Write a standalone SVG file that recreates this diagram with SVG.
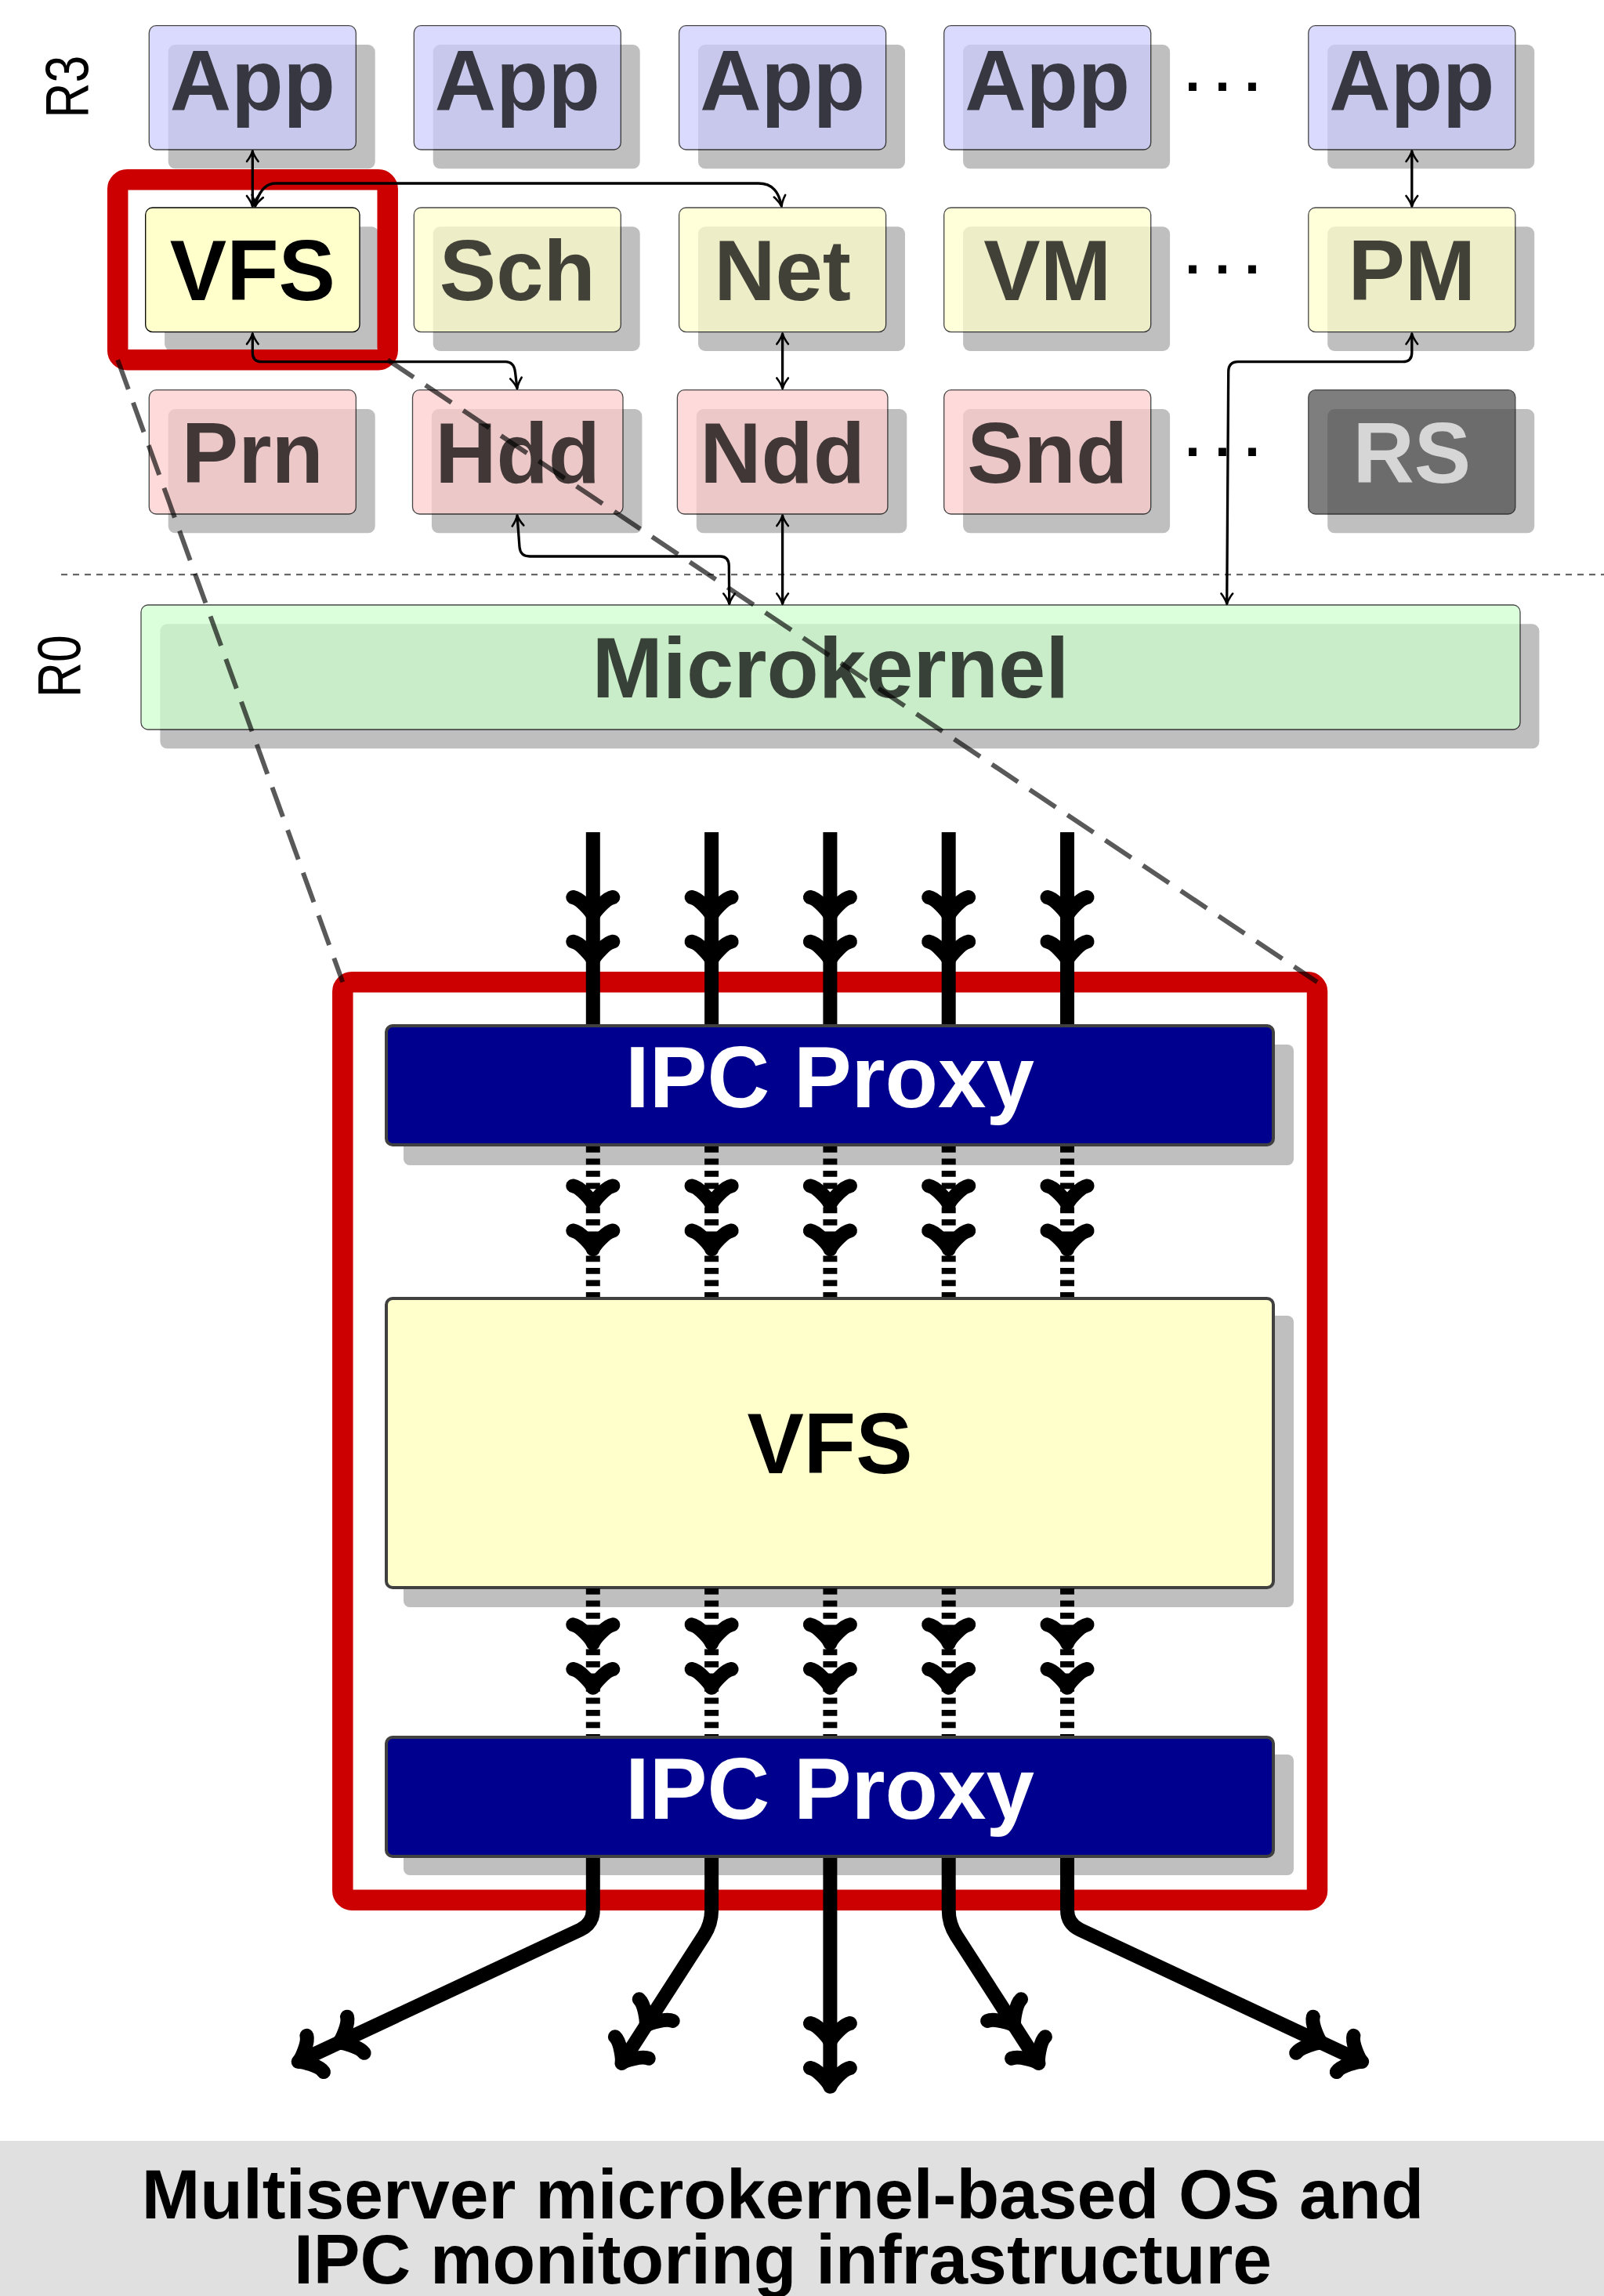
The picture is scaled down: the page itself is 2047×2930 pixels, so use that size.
<svg xmlns="http://www.w3.org/2000/svg" width="2047" height="2930" viewBox="0 0 2047 2930">
<style>
  .sh{fill:#bfbfbf}
  .bx{stroke:#000;stroke-width:1.3;opacity:.72}
  .lb{font-family:"Liberation Sans",Arial,sans-serif;font-weight:bold;font-size:108.5px;text-anchor:middle}
  .tl{opacity:.72}
  .app{fill:#ccccff}
  .srv{fill:#ffffcc}
  .drv{fill:#ffcccc}
  .rs{fill:#4d4d4d}
  .mk{fill:#ccffcc}
  .dots{font-family:"Liberation Sans",Arial,sans-serif;font-weight:bold;font-size:70px;letter-spacing:14.7px}
  .ring{font-family:"Liberation Sans",Arial,sans-serif;font-size:77px;text-anchor:middle}
  .thin{fill:none;stroke:#000;stroke-width:3.3;marker-start:url(#tip);marker-end:url(#tip)}
  .thick{fill:none;stroke:#000;stroke-width:18}
  .dsh{stroke-dasharray:7.7 7.8}
  .big{stroke:#404040;stroke-width:4}
  .ipc{font-family:"Liberation Sans",Arial,sans-serif;font-weight:bold;font-size:110.5px;text-anchor:middle;fill:#fff}
  .zoom{fill:none;stroke:#000;stroke-opacity:.65;stroke-width:6;stroke-dasharray:40 18}
  .title{font-family:"Liberation Sans",Arial,sans-serif;font-weight:bold;font-size:89.5px;text-anchor:middle}
</style>
<defs>
  <marker id="tip" viewBox="-16 -9 18 18" markerWidth="18" markerHeight="18" refX="0" refY="0" orient="auto-start-reverse" markerUnits="userSpaceOnUse" overflow="visible">
    <path d="M-13.5 -7.3 C-9 -3.8 -3.5 -0.9 0 0 C-3.5 0.9 -9 3.8 -13.5 7.3" fill="none" stroke="#000" stroke-width="2.6" stroke-linecap="round" stroke-linejoin="round"/>
  </marker>
  <!-- curved "to" arrowhead for the thick message lines, tip pointing along +x -->
  <path id="to" d="M-19 25.5 C-17.4 16 0 1.6 4.8 0 C0 -1.6 -17.4 -16 -19 -25.5" fill="none" stroke="#000" stroke-width="18" stroke-linecap="round" stroke-linejoin="round"/>
</defs>

<rect width="2047" height="2930" fill="#fff"/>

<!-- ring labels and ring separator -->
<text class="ring" x="111.7" y="110.7" transform="rotate(-90 111.7 110.7)" textLength="80" lengthAdjust="spacingAndGlyphs">R3</text>
<text class="ring" x="101.8" y="850.3" transform="rotate(-90 101.8 850.3)" textLength="80" lengthAdjust="spacingAndGlyphs">R0</text>
<path d="M78 733.3 H2047" stroke="#555" stroke-width="2" stroke-dasharray="8 7"/>

<!-- user applications -->
<g id="app1"><rect class="sh" x="214.7" y="57" width="264" height="158.3" rx="9"/><rect class="bx app" x="190.3" y="32.7" width="264" height="158.3" rx="9"/><text class="lb tl" x="322.3" y="140">App</text></g>
<g id="app2"><rect class="sh" x="552.7" y="57" width="264" height="158.3" rx="9"/><rect class="bx app" x="528.3" y="32.7" width="264" height="158.3" rx="9"/><text class="lb tl" x="660.3" y="140">App</text></g>
<g id="app3"><rect class="sh" x="891" y="57" width="264" height="158.3" rx="9"/><rect class="bx app" x="866.6" y="32.7" width="264" height="158.3" rx="9"/><text class="lb tl" x="998.6" y="140">App</text></g>
<g id="app4"><rect class="sh" x="1229.1" y="57" width="264" height="158.3" rx="9"/><rect class="bx app" x="1204.7" y="32.7" width="264" height="158.3" rx="9"/><text class="lb tl" x="1336.7" y="140">App</text></g>
<g id="app5"><rect class="sh" x="1694.2" y="57" width="264" height="158.3" rx="9"/><rect class="bx app" x="1669.8" y="32.7" width="264" height="158.3" rx="9"/><text class="lb tl" x="1801.8" y="140">App</text></g>

<!-- system servers -->
<g id="vfs"><rect class="sh" x="210.1" y="289.3" width="273.3" height="158.7" rx="9"/><rect x="185.7" y="265" width="273.3" height="158.7" rx="9" fill="#ffffcc" stroke="#000" stroke-width="1.3"/><text class="lb" x="322.3" y="383.1">VFS</text></g>
<g id="sch"><rect class="sh" x="552.7" y="289.3" width="264" height="158.7" rx="9"/><rect class="bx srv" x="528.3" y="265" width="264" height="158.7" rx="9"/><text class="lb tl" x="660.3" y="383.1">Sch</text></g>
<g id="net"><rect class="sh" x="891" y="289.3" width="264" height="158.7" rx="9"/><rect class="bx srv" x="866.6" y="265" width="264" height="158.7" rx="9"/><text class="lb tl" x="998.6" y="383.1">Net</text></g>
<g id="vm"><rect class="sh" x="1229.1" y="289.3" width="264" height="158.7" rx="9"/><rect class="bx srv" x="1204.7" y="265" width="264" height="158.7" rx="9"/><text class="lb tl" x="1336.7" y="383.1">VM</text></g>
<g id="pm"><rect class="sh" x="1694.2" y="289.3" width="264" height="158.7" rx="9"/><rect class="bx srv" x="1669.8" y="265" width="264" height="158.7" rx="9"/><text class="lb tl" x="1801.8" y="383.1">PM</text></g>

<!-- drivers -->
<g id="prn"><rect class="sh" x="214.7" y="522" width="264" height="158.3" rx="9"/><rect class="bx drv" x="190.3" y="497.7" width="264" height="158.3" rx="9"/><text class="lb tl" x="322.3" y="615.6">Prn</text></g>
<g id="hdd"><rect class="sh" x="550.9" y="522" width="268.5" height="158.3" rx="9"/><rect class="bx drv" x="526.5" y="497.7" width="268.5" height="158.3" rx="9"/><text class="lb tl" x="660.7" y="615.6">Hdd</text></g>
<g id="ndd"><rect class="sh" x="888.8" y="522" width="268.5" height="158.3" rx="9"/><rect class="bx drv" x="864.4" y="497.7" width="268.5" height="158.3" rx="9"/><text class="lb tl" x="998.6" y="615.6">Ndd</text></g>
<g id="snd"><rect class="sh" x="1229.1" y="522" width="264" height="158.3" rx="9"/><rect class="bx drv" x="1204.7" y="497.7" width="264" height="158.3" rx="9"/><text class="lb tl" x="1336.7" y="615.6">Snd</text></g>
<g id="rs"><rect class="sh" x="1694.2" y="522" width="264" height="158.3" rx="9"/><rect class="bx rs" x="1669.8" y="497.7" width="264" height="158.3" rx="9"/><text class="lb tl" x="1801.8" y="615.6" fill="#fff">RS</text></g>

<!-- kernel -->
<g id="microkernel"><rect class="sh" x="204.4" y="796.3" width="1760" height="159" rx="9"/><rect class="bx mk" x="180" y="772" width="1760" height="159" rx="9"/><text class="lb tl" x="1060" y="890.3">Microkernel</text></g>

<!-- ellipses between columns -->
<text class="dots" x="1512.3" y="134.2">···</text>
<text class="dots" x="1512.3" y="367.2">···</text>
<text class="dots" x="1512.3" y="599.5">···</text>

<!-- highlight around VFS -->
<rect id="vfs-highlight" x="150.2" y="229.3" width="344.5" height="229.9" rx="12" fill="none" stroke="#cc0000" stroke-width="26.5"/>

<!-- IPC connectors -->
<g id="connectors">
  <path class="thin" d="M322.3 192.5 V263.5"/>
  <path class="thin" d="M997.5 263.5 C994 245 986 234 968 234 L352 234 C338 234 330 245 325.5 263.5"/>
  <path class="thin" d="M322.3 425.5 V450 Q322.3 461.7 334 461.7 L645 461.7 Q656 461.7 657.5 475 L660 496"/>
  <path class="thin" d="M998.6 425.5 V496"/>
  <path class="thin" d="M660 657.5 L663 698 Q664 710 676 710 L919 710 Q930 710 930.3 722 L930.7 771"/>
  <path class="thin" d="M998.6 657.5 V771"/>
  <path class="thin" d="M1801.8 192.5 V263.5"/>
  <path class="thin" d="M1801.8 425.5 V450 Q1801.8 461.7 1790 461.7 L1580 461.7 Q1568 461.7 1567.7 474 L1565.7 771"/>
</g>

<!-- detailed view of the monitored VFS -->
<rect id="detail-frame" x="437.3" y="1253.3" width="1243.7" height="1171.4" rx="12" fill="#fff" stroke="#cc0000" stroke-width="26.5"/>

<g id="ipc-proxy-in"><rect class="sh" x="515" y="1333" width="1136" height="154" rx="8"/><rect class="big" x="493" y="1309" width="1132" height="152" rx="8" fill="#00008e"/><text class="ipc" x="1059" y="1413">IPC Proxy</text></g>
<g id="vfs-detail"><rect class="sh" x="515" y="1679" width="1136" height="372" rx="8"/><rect class="big" x="493" y="1657" width="1132" height="369" rx="8" fill="#ffffcc"/><text class="lb" x="1059" y="1880.4" font-size="110.5">VFS</text></g>
<g id="ipc-proxy-out"><rect class="sh" x="515" y="2239" width="1136" height="154" rx="8"/><rect class="big" x="493" y="2217" width="1132" height="152" rx="8" fill="#00008e"/><text class="ipc" x="1059" y="2321">IPC Proxy</text></g>

<g id="message-flow">
  <!-- incoming messages -->
  <path class="thick" d="M756.8 1062 V1307 M908.1 1062 V1307 M1059.4 1062 V1307 M1210.7 1062 V1307 M1362 1062 V1307"/>
  <use href="#to" transform="translate(756.8 1164) rotate(90)"/><use href="#to" transform="translate(756.8 1220.7) rotate(90)"/>
  <use href="#to" transform="translate(908.1 1164) rotate(90)"/><use href="#to" transform="translate(908.1 1220.7) rotate(90)"/>
  <use href="#to" transform="translate(1059.4 1164) rotate(90)"/><use href="#to" transform="translate(1059.4 1220.7) rotate(90)"/>
  <use href="#to" transform="translate(1210.7 1164) rotate(90)"/><use href="#to" transform="translate(1210.7 1220.7) rotate(90)"/>
  <use href="#to" transform="translate(1362 1164) rotate(90)"/><use href="#to" transform="translate(1362 1220.7) rotate(90)"/>

  <!-- proxy to VFS -->
  <path class="thick dsh" d="M756.8 1463 V1655 M908.1 1463 V1655 M1059.4 1463 V1655 M1210.7 1463 V1655 M1362 1463 V1655"/>
  <use href="#to" transform="translate(756.8 1532.4) rotate(90)"/><use href="#to" transform="translate(756.8 1589.5) rotate(90)"/>
  <use href="#to" transform="translate(908.1 1532.4) rotate(90)"/><use href="#to" transform="translate(908.1 1589.5) rotate(90)"/>
  <use href="#to" transform="translate(1059.4 1532.4) rotate(90)"/><use href="#to" transform="translate(1059.4 1589.5) rotate(90)"/>
  <use href="#to" transform="translate(1210.7 1532.4) rotate(90)"/><use href="#to" transform="translate(1210.7 1589.5) rotate(90)"/>
  <use href="#to" transform="translate(1362 1532.4) rotate(90)"/><use href="#to" transform="translate(1362 1589.5) rotate(90)"/>

  <!-- VFS to proxy -->
  <path class="thick dsh" d="M756.8 2027 V2215 M908.1 2027 V2215 M1059.4 2027 V2215 M1210.7 2027 V2215 M1362 2027 V2215"/>
  <use href="#to" transform="translate(756.8 2092.3) rotate(90)"/><use href="#to" transform="translate(756.8 2149) rotate(90)"/>
  <use href="#to" transform="translate(908.1 2092.3) rotate(90)"/><use href="#to" transform="translate(908.1 2149) rotate(90)"/>
  <use href="#to" transform="translate(1059.4 2092.3) rotate(90)"/><use href="#to" transform="translate(1059.4 2149) rotate(90)"/>
  <use href="#to" transform="translate(1210.7 2092.3) rotate(90)"/><use href="#to" transform="translate(1210.7 2149) rotate(90)"/>
  <use href="#to" transform="translate(1362 2092.3) rotate(90)"/><use href="#to" transform="translate(1362 2149) rotate(90)"/>

  <!-- outgoing messages -->
  <path class="thick" d="M756.8 2371 V2437 Q756.8 2455 740.5 2462.6 L385 2629"/>
  <path class="thick" d="M908.1 2371 V2437 Q908.1 2455 898.35 2470.1 L796 2629"/>
  <path class="thick" d="M1059.4 2371 V2658"/>
  <path class="thick" d="M1210.7 2371 V2437 Q1210.7 2455 1220.45 2470.1 L1322.8 2629"/>
  <path class="thick" d="M1362 2371 V2437 Q1362 2455 1378.3 2462.6 L1733.8 2629"/>
  <use href="#to" transform="translate(436.6 2604.8) rotate(154.9)"/><use href="#to" transform="translate(385 2629) rotate(154.9)"/>
  <use href="#to" transform="translate(826.9 2581.1) rotate(122.8)"/><use href="#to" transform="translate(796 2629) rotate(122.8)"/>
  <use href="#to" transform="translate(1059.4 2601) rotate(90)"/><use href="#to" transform="translate(1059.4 2658) rotate(90)"/>
  <use href="#to" transform="translate(1291.9 2581.1) rotate(57.2)"/><use href="#to" transform="translate(1322.8 2629) rotate(57.2)"/>
  <use href="#to" transform="translate(1682.2 2604.8) rotate(25.1)"/><use href="#to" transform="translate(1733.8 2629) rotate(25.1)"/>
</g>

<!-- magnification guides -->
<path class="zoom" d="M150.2 459.2 L437.3 1253.3"/>
<path class="zoom" d="M494.7 459.2 L1681 1253.3"/>

<!-- caption -->
<g id="caption">
  <rect x="0" y="2732" width="2047" height="198" fill="#e0e0e0"/>
  <text class="title"><tspan x="999" y="2830.7">Multiserver microkernel-based OS and</tspan><tspan x="999" y="2914">IPC monitoring infrastructure</tspan></text>
</g>
</svg>
